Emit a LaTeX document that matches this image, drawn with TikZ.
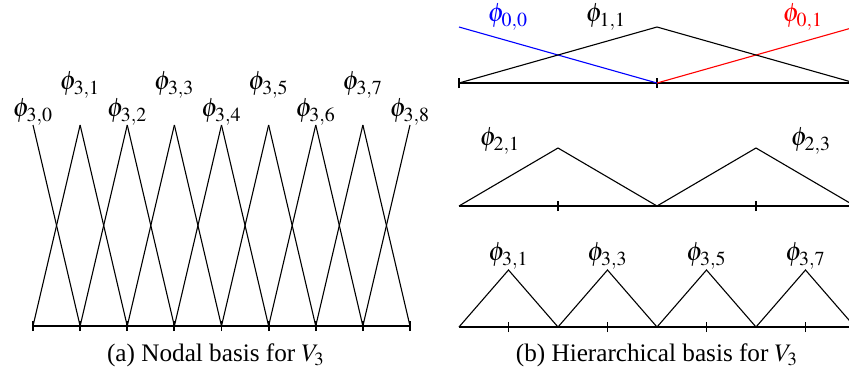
\documentclass[tikz,border=0pt]{standalone}
\usepackage{mathptmx}
\usepackage{fontspec}
\setmainfont{Liberation Serif}

\tikzset{
  hat/.style={line width=0.5pt},
  axisline/.style={line width=0.6pt},
  tickmark/.style={line width=0.9pt},
  fname/.style={inner sep=0pt, font=\large},
  caption/.style={font=\fontsize{11.4}{13}\selectfont},
}

\begin{document}
\begin{tikzpicture}[x=0.4525pt, y=-0.4525pt]
\useasboundingbox (0,0) rectangle (849,379);
\clip (0,0) rectangle (849,379);

% (a) nodal basis
\foreach \i in {0,...,8} {
  \coordinate (a\i) at ({33+47.125*\i},326);
  \coordinate (p\i) at ({33+47.125*\i},125);
}
\draw[axisline] (a0) -- (a8);
\foreach \i in {0,...,8}
  \draw[tickmark] ([yshift=-2.3pt]a\i) -- ([yshift=2.3pt]a\i);
\foreach \i [evaluate=\i as \j using int(\i-1)] in {1,...,8} {
  \draw[hat] (p\i) -- (a\j);
  \draw[hat] (p\j) -- (a\i);
}
% labels
\foreach \i in {0,2,4,6,8}
  \node[fname] (n\i) at ({33+47.125*\i},112) {$\phi_{3,\i}$};
\foreach \i in {1,3,5,7}
  \node[fname] (n\i) at ({33+47.125*\i},85) {$\phi_{3,\i}$};
\node[caption] (capa) at (216,355) {(a) Nodal basis for $V_3$};

% (b) hierarchical basis, level 0 and 1
\foreach \k in {0,1,2} {
  \coordinate (b\k) at ({459+198*\k},83);
  \coordinate (t\k) at ({459+198*\k},27);
}
\draw[axisline] (b0) -- (b2);
\foreach \k in {0,1}
  \draw[tickmark] ([yshift=-2.3pt]b\k) -- ([yshift=2.3pt]b\k);
\draw[hat, blue] (t0) -- (b1);
\draw[hat, red] (b1) -- (t2);
\draw[hat] (b0) -- (t1) -- (b2);
\node[fname, blue] (f00) at (508,17) {$\phi_{0,0}$};
\node[fname] (f11) at (606,17) {$\phi_{1,1}$};
\node[fname, red] (f01) at (803,17) {$\phi_{0,1}$};

% level 2
\foreach \k in {0,...,4} {
  \coordinate (c\k) at ({459+99*\k},206);
  \coordinate (q\k) at ({459+99*\k},148);
}
\draw[axisline] (c0) -- (c4);
\foreach \k in {1,3}
  \draw[tickmark] ([yshift=-2.3pt]c\k) -- ([yshift=2.3pt]c\k);
\draw[hat] (c0) -- (q1) -- (c2) -- (q3) -- (c4);
\node[fname] (f21) at (500,141) {$\phi_{2,1}$};
\node[fname] (f23) at (811,141) {$\phi_{2,3}$};

% level 3
\foreach \k in {0,...,8} {
  \coordinate (d\k) at ({459+49.5*\k},327);
  \coordinate (r\k) at ({459+49.5*\k},270);
}
\draw[axisline] (d0) -- (d8);
\foreach \k in {1,3,5,7} {
  \draw[tickmark] ([yshift=-2.3pt]d\k) -- ([yshift=2.3pt]d\k);
  \node[fname] (g\k) at ({459+49.5*\k},256) {$\phi_{3,\k}$};
}
\draw[hat] (d0) -- (r1) -- (d2) -- (r3) -- (d4) -- (r5) -- (d6) -- (r7) -- (d8);
\node[caption] (capb) at (657,355) {(b) Hierarchical basis for $V_3$};
\end{tikzpicture}
\end{document}
